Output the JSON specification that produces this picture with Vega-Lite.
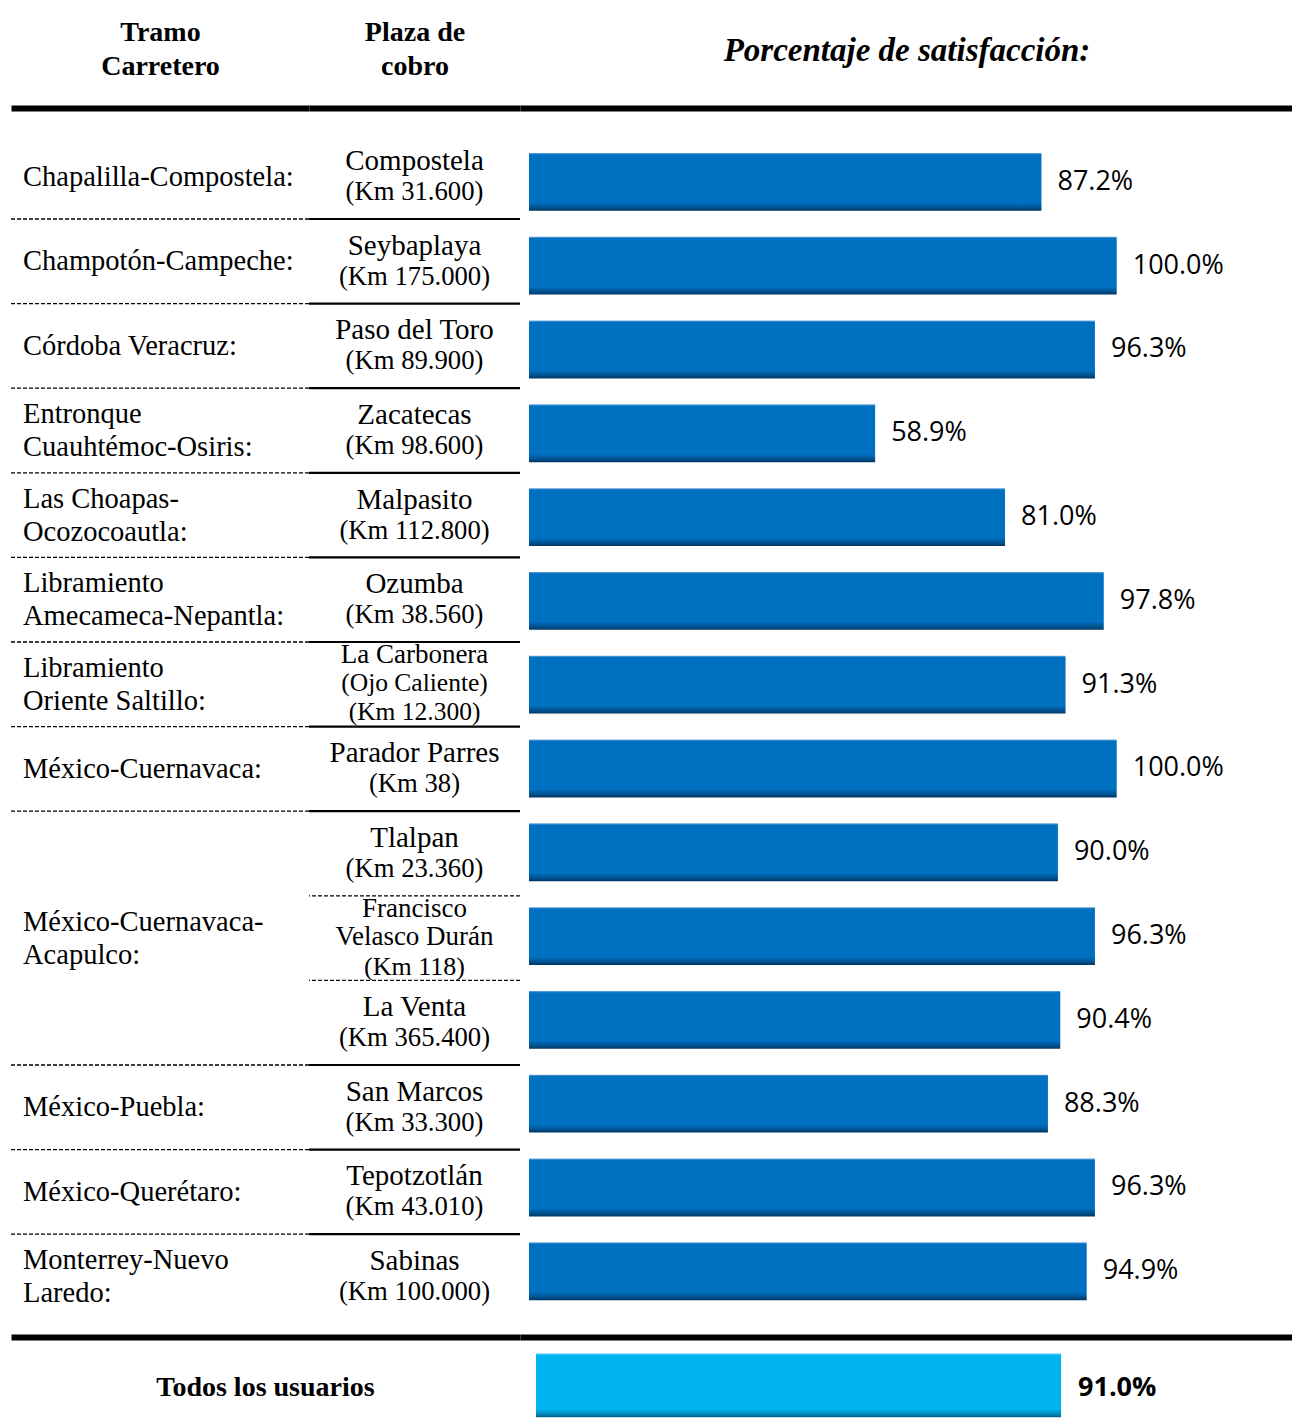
{
  "$schema": "https://vega.github.io/schema/vega-lite/v6.json",
  "autosize": {"type": "pad"},
  "padding": {"left": 10, "top": 18, "right": 0, "bottom": 0},
  "background": "white",
  "config": {
    "view": {"stroke": null},
    "concat": {"spacing": 0},
    "axis": {"domainColor": "#000000", "domainWidth": 6, "ticks": false, "labels": false, "grid": false, "titleColor": "#000000"}
  },
  "datasets": {
    "filas": [
      {"n": 1, "tramo": "Chapalilla-Compostela:", "plaza": "Compostela", "km": "(Km 31.600)", "pct": 0.872},
      {"n": 2, "tramo": "Champotón-Campeche:", "plaza": "Seybaplaya", "km": "(Km 175.000)", "pct": 1.0},
      {"n": 3, "tramo": "Córdoba Veracruz:", "plaza": "Paso del Toro", "km": "(Km 89.900)", "pct": 0.963},
      {"n": 4, "tramo": "Entronque\nCuauhtémoc-Osiris:", "plaza": "Zacatecas", "km": "(Km 98.600)", "pct": 0.589},
      {"n": 5, "tramo": "Las Choapas-\nOcozocoautla:", "plaza": "Malpasito", "km": "(Km 112.800)", "pct": 0.81},
      {"n": 6, "tramo": "Libramiento\nAmecameca-Nepantla:", "plaza": "Ozumba", "km": "(Km 38.560)", "pct": 0.978},
      {"n": 7, "tramo": "Libramiento\nOriente Saltillo:", "plaza": "La Carbonera", "km": "(Ojo Caliente)\n(Km 12.300)", "pct": 0.913},
      {"n": 8, "tramo": "México-Cuernavaca:", "plaza": "Parador Parres", "km": "(Km 38)", "pct": 1.0},
      {"n": 9, "tramo": "México-Cuernavaca-\nAcapulco:", "plaza": "Tlalpan", "km": "(Km 23.360)", "pct": 0.9},
      {"n": 10, "tramo": "México-Cuernavaca-\nAcapulco:", "plaza": "Francisco\nVelasco Durán", "km": "(Km 118)", "pct": 0.963},
      {"n": 11, "tramo": "México-Cuernavaca-\nAcapulco:", "plaza": "La Venta", "km": "(Km 365.400)", "pct": 0.904},
      {"n": 12, "tramo": "México-Puebla:", "plaza": "San Marcos", "km": "(Km 33.300)", "pct": 0.883},
      {"n": 13, "tramo": "México-Querétaro:", "plaza": "Tepotzotlán", "km": "(Km 43.010)", "pct": 0.963},
      {"n": 14, "tramo": "Monterrey-Nuevo\nLaredo:", "plaza": "Sabinas", "km": "(Km 100.000)", "pct": 0.949}
    ],
    "total": [
      {"grupo": "Todos los usuarios", "pct": 0.91}
    ]
  },
  "spacing": 0,
  "vconcat": [
    {
      "spacing": 0,
      "bounds": "flush",
      "hconcat": [
        {
          "width": 298,
          "height": 1229,
          "data": {"name": "filas"},
          "layer": [
            {
              "transform": [
                {"window": [{"op": "lead", "field": "tramo", "as": "sig"}], "sort": [{"field": "n", "order": "ascending"}]}
              ],
              "mark": {"type": "rule", "color": "#000000", "strokeWidth": 1.3, "strokeDash": [4, 2]},
              "encoding": {
                "y": {"field": "n", "type": "ordinal", "bandPosition": 1, "axis": null,
                      "scale": {"type": "band", "paddingInner": 0, "paddingOuter": 0.2636, "align": 0.592}},
                "strokeOpacity": {"condition": {"test": "datum.sig != null && datum.sig != datum.tramo", "value": 1}, "value": 0}
              }
            },
            {
              "transform": [
                {"aggregate": [{"op": "median", "field": "n", "as": "n"}], "groupby": ["tramo"]},
                {"filter": "indexof(datum.tramo, '\\n') < 0"}
              ],
              "mark": {"type": "text", "align": "left", "baseline": "middle", "dx": 12, "font": "Liberation Serif", "fontSize": 28.5, "color": "#000000"},
              "encoding": {
                "x": {"datum": 1, "type": "quantitative",
                      "scale": {"domain": [1, 2], "zero": false},
                      "axis": {"orient": "top", "title": ["Tramo", "Carretero"], "titleFont": "Liberation Serif", "titleFontSize": 28, "titleFontWeight": "bold", "titleLineHeight": 34, "titlePadding": 28, "titleBaseline": "bottom"}},
                "y": {"field": "n", "type": "ordinal", "axis": null},
                "text": {"field": "tramo", "type": "nominal"}
              }
            },
            {
              "transform": [
                {"aggregate": [{"op": "median", "field": "n", "as": "n"}], "groupby": ["tramo"]},
                {"filter": "indexof(datum.tramo, '\\n') >= 0"}
              ],
              "mark": {"type": "text", "align": "left", "baseline": "middle", "dx": 12, "dy": -16.5, "font": "Liberation Serif", "fontSize": 28.5, "lineBreak": "\n", "lineHeight": 33, "color": "#000000"},
              "encoding": {
                "x": {"datum": 1, "type": "quantitative"},
                "y": {"field": "n", "type": "ordinal", "axis": null},
                "text": {"field": "tramo", "type": "nominal"}
              }
            }
          ]
        },
        {
          "width": 211,
          "height": 1229,
          "data": {"name": "filas"},
          "transform": [
            {"window": [{"op": "lead", "field": "tramo", "as": "sig"}], "sort": [{"field": "n", "order": "ascending"}]}
          ],
          "layer": [
            {
              "mark": {"type": "rule", "color": "#000000", "strokeWidth": 2.2},
              "encoding": {
                "y": {"field": "n", "type": "ordinal", "bandPosition": 1, "axis": null,
                      "scale": {"type": "band", "paddingInner": 0, "paddingOuter": 0.2636, "align": 0.592}},
                "strokeOpacity": {"condition": {"test": "datum.sig != null && datum.sig != datum.tramo", "value": 1}, "value": 0}
              }
            },
            {
              "mark": {"type": "rule", "color": "#000000", "strokeWidth": 1.3, "strokeDash": [4, 2]},
              "encoding": {
                "y": {"field": "n", "type": "ordinal", "bandPosition": 1, "axis": null},
                "strokeOpacity": {"condition": {"test": "datum.sig == datum.tramo", "value": 1}, "value": 0}
              }
            },
            {
              "transform": [{"filter": "indexof(datum.plaza, '\\n') < 0 && indexof(datum.km, '\\n') < 0"}],
              "mark": {"type": "text", "align": "center", "baseline": "middle", "dy": -15.5, "font": "Liberation Serif", "fontSize": 29, "color": "#000000"},
              "encoding": {
                "x": {"datum": 1.5, "type": "quantitative",
                      "scale": {"domain": [1, 2], "zero": false},
                      "axis": {"orient": "top", "title": ["Plaza de", "cobro"], "titleFont": "Liberation Serif", "titleFontSize": 28, "titleFontWeight": "bold", "titleLineHeight": 34, "titlePadding": 28, "titleBaseline": "bottom"}},
                "y": {"field": "n", "type": "ordinal", "axis": null},
                "text": {"field": "plaza", "type": "nominal"}
              }
            },
            {
              "transform": [{"filter": "indexof(datum.plaza, '\\n') < 0 && indexof(datum.km, '\\n') < 0"}],
              "mark": {"type": "text", "align": "center", "baseline": "middle", "dy": 15.5, "font": "Liberation Serif", "fontSize": 26.7, "color": "#000000"},
              "encoding": {
                "x": {"datum": 1.5, "type": "quantitative"},
                "y": {"field": "n", "type": "ordinal", "axis": null},
                "text": {"field": "km", "type": "nominal"}
              }
            },
            {
              "transform": [{"filter": "indexof(datum.plaza, '\\n') >= 0 || indexof(datum.km, '\\n') >= 0"}],
              "mark": {"type": "text", "align": "center", "baseline": "middle", "dy": -29.5, "font": "Liberation Serif", "fontSize": 27, "lineBreak": "\n", "lineHeight": 28, "color": "#000000"},
              "encoding": {
                "x": {"datum": 1.5, "type": "quantitative"},
                "y": {"field": "n", "type": "ordinal", "axis": null},
                "text": {"field": "plaza", "type": "nominal"}
              }
            },
            {
              "transform": [{"filter": "indexof(datum.km, '\\n') >= 0"}],
              "mark": {"type": "text", "align": "center", "baseline": "middle", "dy": -1, "font": "Liberation Serif", "fontSize": 25.5, "lineBreak": "\n", "lineHeight": 28.5, "color": "#000000"},
              "encoding": {
                "x": {"datum": 1.5, "type": "quantitative"},
                "y": {"field": "n", "type": "ordinal", "axis": null},
                "text": {"field": "km", "type": "nominal"}
              }
            },
            {
              "transform": [{"filter": "indexof(datum.plaza, '\\n') >= 0"}],
              "mark": {"type": "text", "align": "center", "baseline": "middle", "dy": 28.5, "font": "Liberation Serif", "fontSize": 26, "color": "#000000"},
              "encoding": {
                "x": {"datum": 1.5, "type": "quantitative"},
                "y": {"field": "n", "type": "ordinal", "axis": null},
                "text": {"field": "km", "type": "nominal"}
              }
            }
          ]
        },
        {
          "width": 773,
          "height": 1229,
          "data": {"name": "filas"},
          "layer": [
            {
              "mark": {"type": "bar", "height": {"band": 0.69},
                       "color": {"gradient": "linear", "x1": 0, "y1": 0, "x2": 0, "y2": 1,
                                 "stops": [
                                   {"offset": 0, "color": "#6fa8dc"},
                                   {"offset": 0.03, "color": "#0070c0"},
                                   {"offset": 0.86, "color": "#0070c0"},
                                   {"offset": 0.95, "color": "#00508c"},
                                   {"offset": 1, "color": "#003560"}
                                 ]}},
              "encoding": {
                "x": {"field": "pct", "type": "quantitative",
                      "scale": {"domain": [-0.0153, 1.3], "zero": false, "nice": false},
                      "axis": {"orient": "top", "title": "Porcentaje de satisfacción:", "titleFont": "Liberation Serif", "titleFontSize": 33, "titleFontWeight": "bold", "titleFontStyle": "italic", "titlePadding": 41, "titleBaseline": "bottom"}},
                "y": {"field": "n", "type": "ordinal", "axis": null,
                      "scale": {"type": "band", "paddingInner": 0, "paddingOuter": 0.333, "align": 0.573}}
              }
            },
            {
              "mark": {"type": "text", "align": "left", "baseline": "middle", "dx": 16, "font": "Open Sans", "fontSize": 27, "color": "#000000"},
              "encoding": {
                "x": {"field": "pct", "type": "quantitative"},
                "y": {"field": "n", "type": "ordinal", "axis": null},
                "text": {"field": "pct", "type": "quantitative", "format": ".1%"}
              }
            }
          ]
        }
      ]
    },
    {
      "spacing": 0,
      "bounds": "flush",
      "hconcat": [
        {
          "width": 509,
          "height": 87,
          "data": {"name": "total"},
          "mark": {"type": "text", "align": "center", "baseline": "middle", "dy": 3, "font": "Liberation Serif", "fontSize": 28, "fontWeight": "bold", "color": "#000000"},
          "encoding": {
            "x": {"datum": 1.5, "type": "quantitative",
                  "scale": {"domain": [1, 2], "zero": false},
                  "axis": {"orient": "top", "title": null}},
            "y": {"field": "grupo", "type": "nominal", "axis": null,
                  "scale": {"type": "band", "paddingInner": 0, "paddingOuter": 0.08, "align": 0.9}},
            "text": {"field": "grupo", "type": "nominal"}
          }
        },
        {
          "width": 773,
          "height": 87,
          "data": {"name": "total"},
          "layer": [
            {
              "mark": {"type": "bar", "height": {"band": 0.853},
                       "color": {"gradient": "linear", "x1": 0, "y1": 0, "x2": 0, "y2": 1,
                                 "stops": [
                                   {"offset": 0, "color": "#8fdcf8"},
                                   {"offset": 0.03, "color": "#00b4f2"},
                                   {"offset": 0.87, "color": "#00b4f2"},
                                   {"offset": 0.95, "color": "#0088b8"},
                                   {"offset": 1, "color": "#005f80"}
                                 ]}},
              "encoding": {
                "x": {"field": "pct", "type": "quantitative",
                      "scale": {"domain": [-0.0277, 1.312], "zero": false, "nice": false},
                      "axis": {"orient": "top", "title": null}},
                "y": {"field": "grupo", "type": "nominal", "axis": null,
                      "scale": {"type": "band", "paddingInner": 0, "paddingOuter": 0.08, "align": 0.9}}
              }
            },
            {
              "mark": {"type": "text", "align": "left", "baseline": "middle", "dx": 17, "dy": 3, "font": "Open Sans", "fontSize": 27, "fontWeight": "bold", "color": "#000000"},
              "encoding": {
                "x": {"field": "pct", "type": "quantitative"},
                "y": {"field": "grupo", "type": "nominal", "axis": null},
                "text": {"field": "pct", "type": "quantitative", "format": ".1%"}
              }
            }
          ]
        }
      ]
    }
  ]
}
